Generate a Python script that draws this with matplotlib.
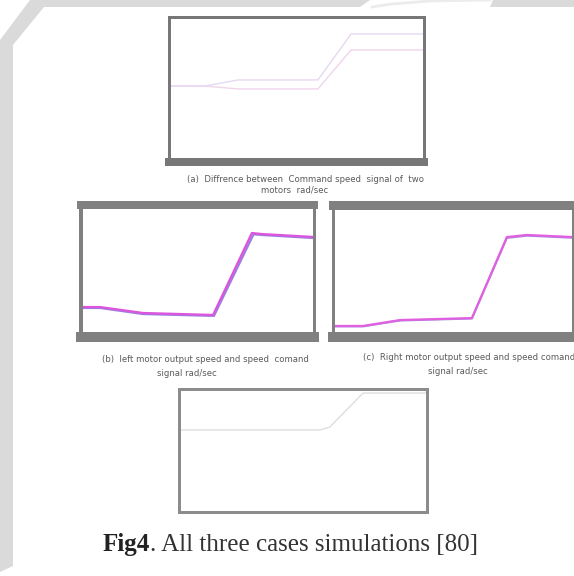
import matplotlib.pyplot as plt

# panel (a) - command speed of the two motors
t_a = [0, 1.43, 2.73, 5.86, 7.16, 10]
cmd_upper = [52.2, 52.2, 56.4, 56.4, 88.0, 88.0]
cmd_lower = [52.2, 52.2, 50.2, 50.2, 77.0, 77.0]

# panel (b) - left motor
t_b = [0, 0.82, 2.67, 5.68, 7.35, 7.78, 10]
left_out = [22.7, 22.7, 18.2, 16.7, 78.8, 78.0, 75.8]
t_b2 = [0, 0.82, 2.67, 5.72, 7.42, 7.85, 10]
left_cmd = [22.0, 22.0, 17.4, 16.0, 77.8, 77.2, 75.0]

# panel (c) - right motor
t_c = [0, 1.23, 2.78, 5.78, 7.24, 8.08, 10]
right_out = [8.4, 8.4, 12.9, 14.4, 76.0, 77.6, 76.0]
right_cmd = [8.0, 8.0, 12.5, 14.0, 75.3, 77.0, 75.4]

# panel (d)
t_d = [0, 5.68, 6.08, 7.41, 10]
d_vals = [66.3, 66.3, 68.7, 96.3, 96.3]

W, H = 574, 576
fig = plt.figure(figsize=(W / 100, H / 100), dpi=100)
fig.patch.set_facecolor('white')

# scanned page background bits
bg = fig.add_axes([0, 0, 1, 1], zorder=-10)
bg.set_xlim(0, W)
bg.set_ylim(H, 0)
bg.axis('off')
bg.fill([0, 30, 370, 360, 44, 13, 13, 0], [40, 0, 0, 7, 7, 45, 566, 572], color='#dadada', lw=0)
bg.fill([493, 574, 574, 490], [0, 0, 7, 7], color='#dadada', lw=0)
bg.plot([372, 392, 430, 490], [7, 4, 1, 0], color='#ececec', lw=2)


def panel(x0, x1, y0, y1, lw_l, lw_r, lw_t, lw_b, col):
    # pixel box (spine centres) -> axes
    ax = fig.add_axes([x0 / W, 1 - y1 / H, (x1 - x0) / W, (y1 - y0) / H])
    ax.set_xlim(0, 10)
    ax.set_ylim(0, 100)
    ax.set_xticks([])
    ax.set_yticks([])
    for s, w in zip(['left', 'right', 'top', 'bottom'], [lw_l, lw_r, lw_t, lw_b]):
        ax.spines[s].set_linewidth(w * 0.72)
        ax.spines[s].set_color(col)
    return ax


ax_a = panel(168.5, 423.5, 16.5, 162, 3, 3, 3, 8, '#777777')
ax_a.plot(t_a, cmd_lower, color='#f0d4ec', lw=1.0)
ax_a.plot(t_a, cmd_upper, color='#e6d8f2', lw=1.0)

ax_b = panel(81, 313.5, 205, 337, 4, 3, 8, 10, '#808080')
ax_b.plot(t_b2, left_cmd, color='#9a7ee0', lw=1.6)
ax_b.plot(t_b, left_out, color='#dd55dd', lw=1.6)

ax_c = panel(333.5, 573, 205.5, 337, 3, 3, 9, 10, '#808080')
ax_c.plot(t_c, right_cmd, color='#a888e0', lw=1.4)
ax_c.plot(t_c, right_out, color='#e060e0', lw=1.6)

ax_d = panel(178.5, 427.5, 388.5, 511.5, 3, 3, 3, 3, '#8c8c8c')
ax_d.plot(t_d, d_vals, color='#dedede', lw=1.0)

cap = dict(ha='center', va='center', fontsize=6.1, color='#5a5a5a')
fig.text(306 / W, 1 - 180 / H, '(a)  Diffrence between  Command speed  signal of  two', **cap)
fig.text(295 / W, 1 - 190 / H, 'motors  rad/sec', **cap)
fig.text(205 / W, 1 - 360 / H, '(b)  left motor output speed and speed  comand', **cap)
fig.text(187 / W, 1 - 373 / H, 'signal rad/sec', **cap)
fig.text(469 / W, 1 - 358 / H, '(c)  Right motor output speed and speed comand', **cap)
fig.text(458 / W, 1 - 372 / H, 'signal rad/sec', **cap)

# main caption: bold "Fig4" then the rest right after it
t1 = fig.text(103 / W, 1 - 551 / H, 'Fig4', fontsize=18, fontweight='bold',
              family='Liberation Serif', color='#222222', va='baseline')
fig.add_artist(plt.Annotation('. All three cases simulations [80]', xy=(1, 0), xycoords=t1,
                              fontsize=18, family='Liberation Serif', color='#333333',
                              va='bottom', ha='left', annotation_clip=False))

fig.savefig('out.png', dpi=100)
